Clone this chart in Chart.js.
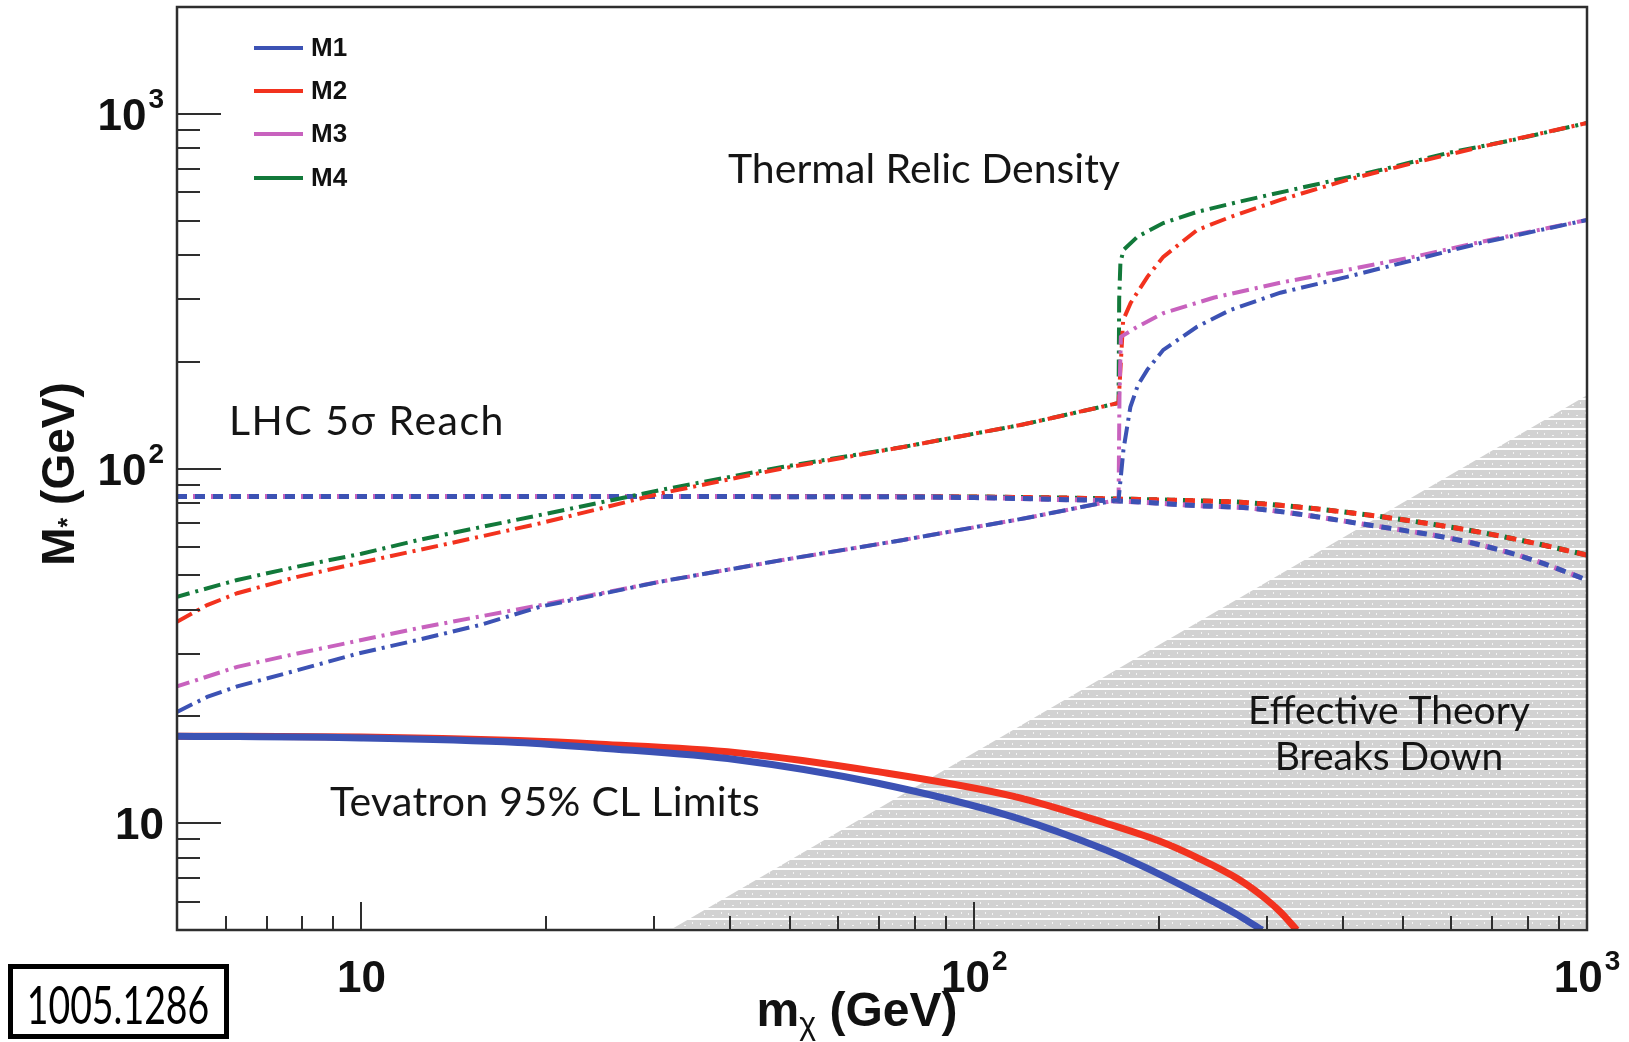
<!DOCTYPE html>
<html>
<head>
<meta charset="utf-8">
<title>M* vs m_chi</title>
<script src="https://cdn.jsdelivr.net/npm/chart.js@4.4.0/dist/chart.umd.min.js"></script>
<style>
  html, body { margin: 0; padding: 0; background: #fff; }
</style>
</head>
<body>
<canvas id="myChart" width="1629" height="1042"></canvas>
<script>
// ---- data (m_chi in GeV on x, M* in GeV on y) ----

// Tevatron 95% CL limits (solid)
const tevMxM1 = [5, 10, 18, 24.5, 41, 69, 116, 164, 200, 231, 265, 295];
const tevMsM1 = [17.6, 17.4, 16.9, 16.3, 15.1, 13.0, 10.4, 8.4, 7.2, 6.35, 5.6, 5.0];
const tevMxM2 = [5, 10, 18, 24.5, 41, 69, 116, 164, 200, 231, 270, 298, 316, 336];
const tevMsM2 = [17.6, 17.5, 17.1, 16.7, 15.8, 14.0, 11.9, 10.0, 8.92, 8.0, 6.95, 6.15, 5.62, 5.0];

// LHC 5 sigma reach (dashed)
const lhcMx = [5, 50, 100, 136, 172, 234, 282, 438, 638, 817, 1000];
const lhcMsM1 = [83.4, 83.3, 82.8, 81.8, 81.0, 78.5, 77.3, 69.4, 62.1, 55.2, 48.5];
const lhcMsM2 = [83.4, 83.4, 83.1, 82.6, 82.0, 81.0, 80.0, 74.0, 67.1, 61.7, 57.0];

// thermal relic density (dash-dot)
const relMxM1 = [5, 5.6, 6.27, 7.86, 9.88, 12.4, 15.6, 19.6, 30.8, 48.6, 76.6, 121, 166, 172, 173.5, 175.2, 179.8, 185, 191.7, 203.5, 231, 262, 316, 406, 521, 670, 1000];
const relMsM1 = [20.6, 22.7, 24.3, 27.0, 30.1, 32.9, 36.2, 40.8, 48.0, 55.2, 62.9, 72.4, 80.7, 81.5, 95, 113, 149, 172, 190, 216, 251, 280, 313, 347, 387, 432, 502];
const relMxM2 = [5, 5.6, 6.27, 7.86, 9.88, 12.4, 15.6, 19.6, 24.6, 30.8, 48.6, 76.6, 120, 172, 173.5, 175, 180, 191.7, 203.5, 231, 262, 316, 406, 521, 670, 1000];
const relMsM2 = [37.0, 41.2, 44.5, 49.5, 54.1, 58.9, 64.2, 70.1, 77.2, 85.1, 100, 115, 133, 153, 200, 262, 293, 347, 395, 470, 512, 572, 651, 727, 806, 942];
const relMxM3 = [5, 6.27, 7.86, 12.4, 19.6, 30.8, 48.6, 76.6, 121, 166, 172, 172.6, 173.5, 184.6, 203.5, 245.7, 316, 406, 521, 670, 1000];
const relMsM3 = [24.3, 27.6, 30.1, 35.5, 41.2, 48.0, 55.2, 62.9, 72.4, 80.7, 81.5, 160, 235, 251, 274, 303, 334, 363, 395, 435, 502];
const relMxM4 = [5, 6.27, 7.86, 10, 12.4, 19.6, 30.8, 48.6, 76.6, 120, 172, 172.4, 173.2, 175.2, 184.6, 203.5, 231, 279, 358, 460, 592, 758, 1000];
const relMsM4 = [43.5, 48.5, 52.9, 57.5, 62.9, 74.0, 87.0, 101, 115, 133, 153, 300, 380, 413, 450, 492, 529, 572, 630, 694, 775, 844, 942];

// region where the effective theory breaks down
const effMx = [31.9, 1000];
const effMs = [5, 161];

// axis ticks
const xMajorTicks = [10, 100, 1000];
const xMajorExp = ['', '2', '3'];
const xMinorTicks = [6, 7, 8, 9, 20, 30, 40, 50, 60, 70, 80, 90, 200, 300, 400, 500, 600, 700, 800, 900];
const yMajorTicks = [10, 100, 1000];
const yMajorExp = ['', '2', '3'];
const yMinorTicks = [5, 6, 7, 8, 9, 20, 30, 40, 50, 60, 70, 80, 90, 200, 300, 400, 500, 600, 700, 800, 900];

const seriesNames = ['M1', 'M2', 'M3', 'M4'];
const seriesColors = ['#3c52b4', '#f2321e', '#c862be', '#12793a'];

const pts = (xs, ys) => xs.map((v, i) => ({x: v, y: ys[i]}));

// light grey brick hatching, two offset rows per tile
function makeHatch() {
  const p = document.createElement('canvas');
  p.width = 24; p.height = 20;
  const c = p.getContext('2d');
  c.fillStyle = '#ffffff';
  c.fillRect(0, 0, 24, 20);
  c.fillStyle = '#d2d2d2';
  c.fillRect(0, 0, 24, 8);
  c.fillRect(0, 10, 24, 8);
  c.fillStyle = '#f4f4f4';
  c.fillRect(4, 3, 1, 2);
  c.fillRect(12, 5, 2, 1);
  c.fillRect(20, 2, 1, 2);
  c.fillRect(8, 13, 1, 2);
  c.fillRect(16, 15, 2, 1);
  c.fillRect(1, 12, 1, 2);
  return c.createPattern(p, 'repeat');
}

const SANS = '"Liberation Sans", Arial, Helvetica, sans-serif';
const GILL = 'Lato, "Open Sans", "Noto Sans", sans-serif';

function line(c, x1, y1, x2, y2) {
  c.beginPath();
  c.moveTo(x1, y1);
  c.lineTo(x2, y2);
  c.stroke();
}

// "10" with a raised exponent
function powLabel(c, exp, px, baseY, align) {
  c.font = 'bold 44px ' + SANS;
  const wBase = c.measureText('10').width;
  c.font = 'bold 28px ' + SANS;
  const wExp = exp ? c.measureText(exp).width + 2 : 0;
  const total = wBase + wExp;
  const x0 = align === 'right' ? px - total : px - total / 2;
  c.textAlign = 'left';
  c.textBaseline = 'alphabetic';
  c.font = 'bold 44px ' + SANS;
  c.fillText('10', x0, baseY);
  if (exp) {
    c.font = 'bold 28px ' + SANS;
    c.fillText(exp, x0 + wBase + 2, baseY - 22);
  }
}

const frameAndTicks = {
  id: 'frameAndTicks',
  afterDatasetsDraw(chart) {
    const {ctx: c, chartArea: {left, top, right, bottom}, scales: {x, y}} = chart;
    c.save();
    c.strokeStyle = '#2e2e2e';
    c.lineWidth = 2;
    yMajorTicks.forEach(v => { const py = Math.round(y.getPixelForValue(v)); line(c, left, py, left + 44, py); });
    yMinorTicks.forEach(v => { const py = Math.round(y.getPixelForValue(v)); line(c, left, py, left + 23, py); });
    xMajorTicks.forEach(v => { const px = Math.round(x.getPixelForValue(v)); line(c, px, bottom, px, bottom - 28); });
    xMinorTicks.forEach(v => { const px = Math.round(x.getPixelForValue(v)); line(c, px, bottom, px, bottom - 14); });
    c.lineWidth = 2.5;
    c.strokeRect(left, top, right - left, bottom - top);
    c.restore();
  },
  afterDraw(chart) {
    const {ctx: c, scales: {x, y}} = chart;
    c.save();
    c.fillStyle = '#111';

    // tick labels
    yMajorTicks.forEach((v, i) => powLabel(c, yMajorExp[i], 164, y.getPixelForValue(v) + 16, 'right'));
    xMajorTicks.forEach((v, i) => powLabel(c, xMajorExp[i], x.getPixelForValue(v), 992, 'center'));

    // x title: m_chi (GeV)
    c.textBaseline = 'alphabetic';
    c.textAlign = 'left';
    c.font = 'bold 48px ' + SANS;
    const wm = c.measureText('m').width;
    const wg = c.measureText(' (GeV)').width;
    c.font = '32px ' + SANS;
    const wc = c.measureText('\u03c7').width;
    let xs = 857 - (wm + wc + wg) / 2;
    c.font = 'bold 48px ' + SANS;
    c.fillText('m', xs, 1026);
    c.font = '32px ' + SANS;
    c.fillText('\u03c7', xs + wm, 1034);
    c.font = 'bold 48px ' + SANS;
    c.fillText(' (GeV)', xs + wm + wc, 1026);

    // y title: M* (GeV)
    c.save();
    c.translate(74, 474);
    c.rotate(-Math.PI / 2);
    c.font = 'bold 46px ' + SANS;
    const wM = c.measureText('M').width;
    const wG = c.measureText(' (GeV)').width;
    c.font = 'bold 25px ' + SANS;
    const wS = c.measureText('*').width;
    let ys = -(wM + wS + wG) / 2;
    c.font = 'bold 46px ' + SANS;
    c.fillText('M', ys, 0);
    c.font = 'bold 25px ' + SANS;
    c.fillText('*', ys + wM, 2);
    c.font = 'bold 46px ' + SANS;
    c.fillText(' (GeV)', ys + wM + wS, 0);
    c.restore();

    // legend
    const legY = [48, 91, 134, 178];
    c.lineWidth = 4;
    c.font = 'bold 26px ' + SANS;
    c.textBaseline = 'middle';
    seriesNames.forEach((n, i) => {
      c.strokeStyle = seriesColors[i];
      line(c, 254, legY[i], 303, legY[i]);
      c.fillStyle = '#111';
      c.fillText(n, 311, legY[i] + 1);
    });

    // region annotations
    c.textBaseline = 'alphabetic';
    c.fillStyle = '#151515';
    c.font = '41px ' + GILL;
    c.textAlign = 'center';
    c.fillText('Thermal Relic Density', 924, 183);
    c.textAlign = 'left';
    c.letterSpacing = '1.5px';
    c.fillText('LHC 5\u03c3 Reach', 229, 435);
    c.letterSpacing = '0.3px';
    c.fillText('Tevatron 95% CL Limits', 330, 816);
    c.letterSpacing = '0px';
    c.font = '39px ' + GILL;
    c.textAlign = 'center';
    c.fillText('Effective Theory', 1389, 724);
    c.fillText('Breaks Down', 1389, 770);

    // arXiv number box
    c.strokeStyle = '#000';
    c.lineWidth = 5;
    c.strokeRect(10.5, 966.5, 216, 70);
    c.save();
    c.translate(118, 1024);
    c.scale(0.72, 1);
    c.font = '52px ' + GILL;
    c.fillStyle = '#000';
    c.fillText('1005.1286', 0, 0);
    c.restore();

    c.restore();
  }
};

const dashDot = [17, 6, 3, 6];
const dashed = [10, 8];
const straight = { cubicInterpolationMode: 'default', tension: 0 };

new Chart(document.getElementById('myChart'), {
  type: 'line',
  data: {
    datasets: [
      // solid limits on top
      { data: pts(tevMxM1, tevMsM1), borderColor: seriesColors[0], borderWidth: 7, order: 1 },
      { data: pts(tevMxM2, tevMsM2), borderColor: seriesColors[1], borderWidth: 7, order: 2 },
      // relic density
      { data: pts(relMxM1, relMsM1), borderColor: seriesColors[0], borderWidth: 4, borderDash: dashDot, order: 3, ...straight },
      { data: pts(relMxM3, relMsM3), borderColor: seriesColors[2], borderWidth: 4, borderDash: dashDot, borderDashOffset: 4, order: 4, ...straight },
      { data: pts(relMxM2, relMsM2), borderColor: seriesColors[1], borderWidth: 4, borderDash: dashDot, order: 5, ...straight },
      { data: pts(relMxM4, relMsM4), borderColor: seriesColors[3], borderWidth: 4, borderDash: dashDot, borderDashOffset: 4, order: 6, ...straight },
      // LHC reach
      { data: pts(lhcMx, lhcMsM1), borderColor: seriesColors[0], borderWidth: 5, borderDash: dashed, order: 7 },
      { data: pts(lhcMx, lhcMsM1), borderColor: seriesColors[2], borderWidth: 5, borderDash: dashed, borderDashOffset: 2, order: 8 },
      { data: pts(lhcMx, lhcMsM2), borderColor: seriesColors[1], borderWidth: 5, borderDash: dashed, order: 9 },
      { data: pts(lhcMx, lhcMsM2), borderColor: seriesColors[3], borderWidth: 5, borderDash: dashed, borderDashOffset: 2, order: 10 },
      // effective theory region
      { data: pts(effMx, effMs), borderWidth: 0, borderColor: 'rgba(0,0,0,0)', backgroundColor: makeHatch(), fill: 'start', order: 20, ...straight }
    ]
  },
  options: {
    responsive: false,
    animation: false,
    layout: { padding: { left: 177, top: 7, right: 42, bottom: 112 } },
    scales: {
      x: { type: 'logarithmic', min: 5, max: 1000, display: false },
      y: { type: 'logarithmic', min: 5, max: 2000, display: false }
    },
    elements: {
      point: { radius: 0, hoverRadius: 0 },
      line: { cubicInterpolationMode: 'monotone', borderCapStyle: 'butt' }
    },
    plugins: {
      legend: { display: false },
      tooltip: { enabled: false }
    }
  },
  plugins: [frameAndTicks]
});
</script>
</body>
</html>
